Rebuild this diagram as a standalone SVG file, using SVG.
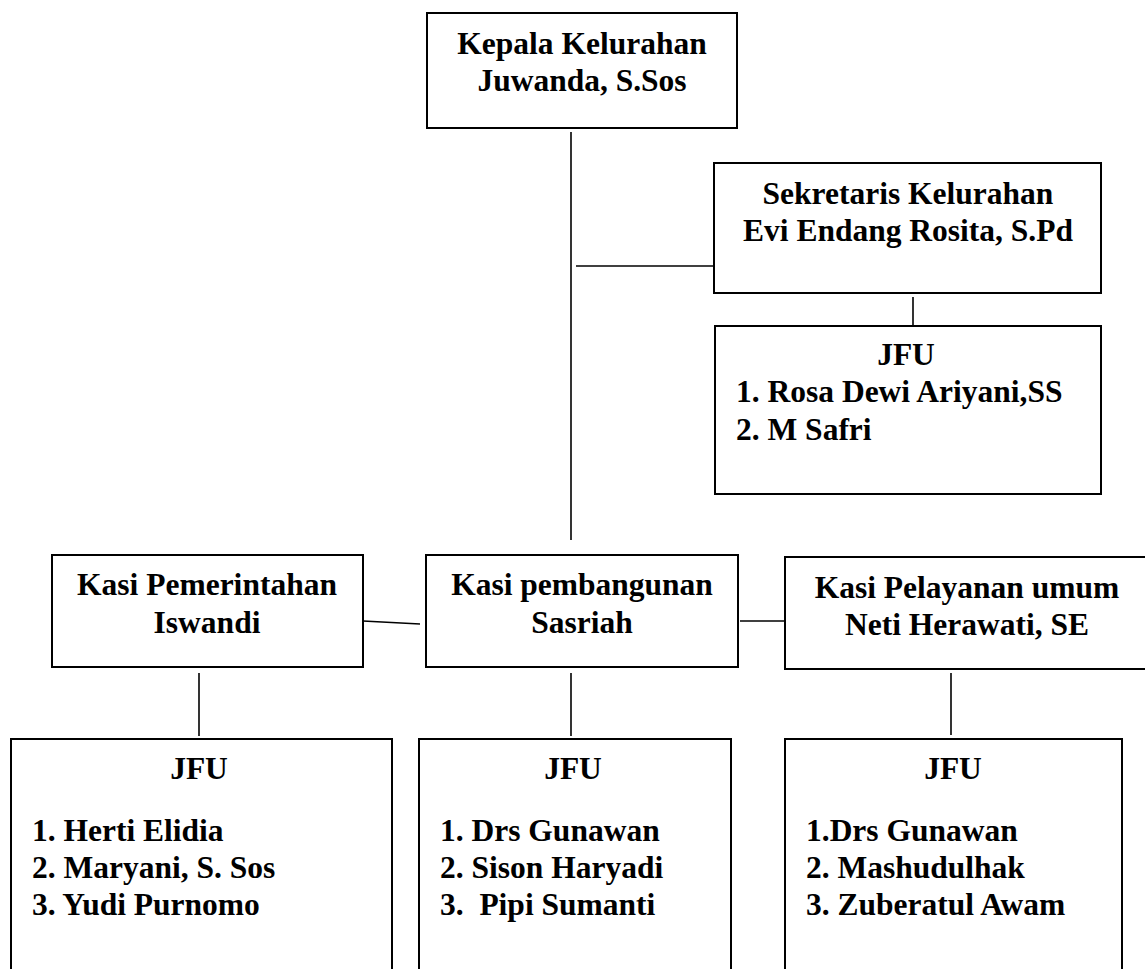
<svg xmlns="http://www.w3.org/2000/svg" width="1145" height="969" viewBox="0 0 1145 969">
<style>
.box{fill:#fff;stroke:#000;stroke-width:2}
.ln{stroke:#000;stroke-width:1.6;fill:none}
text{font-family:"Liberation Serif","Times New Roman",serif;font-weight:bold;font-size:31.5px;fill:#000}
.c{text-anchor:middle}
</style>
<rect width="1145" height="969" fill="#fff"/>
<g id="connectors">
<line class="ln" x1="571" y1="132" x2="571" y2="540"/>
<line class="ln" x1="576" y1="266" x2="714" y2="266"/>
<line class="ln" x1="913" y1="297" x2="913" y2="334"/>
<line class="ln" x1="363" y1="621" x2="420" y2="624"/>
<line class="ln" x1="740" y1="621" x2="786" y2="621"/>
<line class="ln" x1="199" y1="673" x2="199" y2="736"/>
<line class="ln" x1="571" y1="673" x2="571" y2="736"/>
<line class="ln" x1="951" y1="673" x2="951" y2="735"/>
</g>
<g id="kepala">
<rect class="box" x="427" y="13" width="310" height="115"/>
<text class="c" x="582" y="54">Kepala Kelurahan</text>
<text class="c" x="582" y="91">Juwanda, S.Sos</text>
</g>
<g id="sekretaris">
<rect class="box" x="714" y="163" width="387" height="130"/>
<text class="c" x="908" y="204">Sekretaris Kelurahan</text>
<text class="c" x="908" y="241">Evi Endang Rosita, S.Pd</text>
</g>
<g id="jfu-sekretaris">
<rect class="box" x="715" y="326" width="386" height="168"/>
<text class="c" x="906" y="365">JFU</text>
<text x="736" y="402">1. Rosa Dewi Ariyani,SS</text>
<text x="736" y="440">2. M Safri</text>
</g>
<g id="kasi-pemerintahan">
<rect class="box" x="52" y="555" width="311" height="112"/>
<text class="c" x="207" y="595">Kasi Pemerintahan</text>
<text class="c" x="207" y="633">Iswandi</text>
</g>
<g id="kasi-pembangunan">
<rect class="box" x="426" y="555" width="312" height="112"/>
<text class="c" x="582" y="595">Kasi pembangunan</text>
<text class="c" x="582" y="633">Sasriah</text>
</g>
<g id="kasi-pelayanan">
<rect class="box" x="785" y="557" width="370" height="112"/>
<text class="c" x="967" y="598">Kasi Pelayanan umum</text>
<text class="c" x="967" y="635">Neti Herawati, SE</text>
</g>
<g id="jfu-pemerintahan">
<rect class="box" x="11" y="739" width="381" height="240"/>
<text class="c" x="199" y="779">JFU</text>
<text x="32" y="841">1. Herti Elidia</text>
<text x="32" y="878">2. Maryani, S. Sos</text>
<text x="32" y="915">3. Yudi Purnomo</text>
</g>
<g id="jfu-pembangunan">
<rect class="box" x="419" y="739" width="312" height="240"/>
<text class="c" x="573" y="779">JFU</text>
<text x="440" y="841">1. Drs Gunawan</text>
<text x="440" y="878">2. Sison Haryadi</text>
<text x="440" y="915" xml:space="preserve">3.  Pipi Sumanti</text>
</g>
<g id="jfu-pelayanan">
<rect class="box" x="785" y="739" width="337" height="240"/>
<text class="c" x="953" y="779">JFU</text>
<text x="806" y="841">1.Drs Gunawan</text>
<text x="806" y="878">2. Mashudulhak</text>
<text x="806" y="915">3. Zuberatul Awam</text>
</g>
</svg>
